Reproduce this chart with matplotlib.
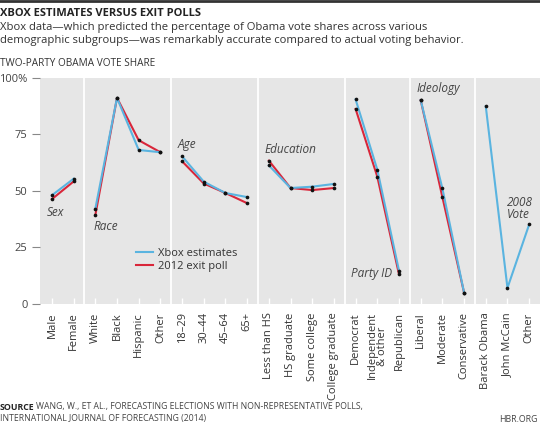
import numpy as np
import matplotlib
matplotlib.use("Agg")
import matplotlib.pyplot as plt

plt.rcParams['font.family'] = ['Open Sans', 'DejaVu Sans']

categories = ['Male', 'Female', 'White', 'Black', 'Hispanic', 'Other',
              '18–29', '30–44', '45–64', '65+',
              'Less than HS', 'HS graduate', 'Some college', 'College graduate',
              'Democrat', 'Independent\n& other', 'Republican',
              'Liberal', 'Moderate', 'Conservative',
              'Barack Obama', 'John McCain', 'Other']
group_names = ['Sex', 'Race', 'Age', 'Education', 'Party ID', 'Ideology', '2008\nVote']
group_sizes = [2, 4, 4, 4, 3, 3, 3]
xbox = [48.0, 55.3, 42.0, 91.0, 68.0, 67.0, 65.2, 54.0, 49.0, 47.2,
        61.2, 51.2, 51.8, 53.0, 90.3, 59.3, 14.7, 90.0, 51.0, 5.0,
        87.3, 7.1, 35.1]
exit_poll = [46.3, 54.1, 39.2, 91.0, 72.3, 67.0, 63.0, 53.2, 49.0, 44.5,
             63.3, 51.2, 50.3, 51.2, 86.1, 56.2, 13.1, 90.0, 47.2, 5.0,
             np.nan, np.nan, np.nan]
yticks = [0, 25, 50, 75, 100]
ytick_labels = ['0', '25', '50', '75', '100%']

BLUE = '#5ab4e0'
RED = '#d9263a'
BG = '#e6e6e6'

fig = plt.figure(figsize=(5.4, 4.25), dpi=100)
ax = fig.add_axes([40/540, (425-304)/425, 500/540, (304-77.5)/425])
ax.set_facecolor(BG)
for s in ax.spines.values():
    s.set_visible(False)

x = np.arange(len(categories))
xb = np.array(xbox)
ep = np.array(exit_poll)

start = 0
for gi, n in enumerate(group_sizes):
    sl = slice(start, start + n)
    ax.plot(x[sl], ep[sl], color=RED, lw=1.5, zorder=3,
            label='2012 exit poll' if gi == 0 else None)
    ax.plot(x[sl], xb[sl], color=BLUE, lw=1.5, zorder=4,
            label='Xbox estimates' if gi == 0 else None)
    if gi > 0:
        ax.axvline(start - 0.5, color='white', lw=1.3, zorder=1)
    start += n

ax.scatter(x, ep, s=7, color='#111111', zorder=5, linewidths=0)
ax.scatter(x, xb, s=7, color='#111111', zorder=5, linewidths=0)

# group labels
label_pos = [(-0.25, 40.5), (1.9, 34.3), (5.8, 70.3), (9.8, 68.0),
             (13.8, 13.6), (16.8, 95.0), (20.97, 42.0)]
for name, (lx, ly) in zip(group_names, label_pos):
    ax.text(lx, ly, name, style='italic', fontsize=8.5, color='#444444',
            ha='left', va='center', linespacing=0.9, zorder=6)

ax.set_xlim(-0.55, 22.5)
ax.set_ylim(0, 100)
ax.set_xticks(x)
ax.set_xticklabels(categories, rotation=90, fontsize=8, color='#333333',
                   linespacing=0.85)
ax.tick_params(axis='x', direction='in', length=4, color='white', width=1, pad=6)
ax.set_yticks(yticks)
ax.set_yticklabels(ytick_labels, fontsize=8, color='#444444')
ax.tick_params(axis='y', direction='out', length=6, color='#888888', width=0.8, pad=3)

h, l = ax.get_legend_handles_labels()
order = [l.index('Xbox estimates'), l.index('2012 exit poll')]
leg = ax.legend([h[i] for i in order], [l[i] for i in order],
                loc='upper left', bbox_to_anchor=(0.183, 0.268), frameon=False,
                fontsize=8, handlelength=1.5, handletextpad=0.45,
                labelspacing=0.2, borderaxespad=0)
for t in leg.get_texts():
    t.set_color('#333333')

# header
fig.add_artist(plt.Line2D([0, 1], [1 - 1/425, 1 - 1/425], color='#333333', lw=2))
fig.text(0.0, 1 - 13/425, 'XBOX ESTIMATES VERSUS EXIT POLLS', fontsize=8.0,
         fontweight='bold', color='#222222', va='center', ha='left')
fig.text(0.0, 1 - 34/425,
         'Xbox data—which predicted the percentage of Obama vote shares across various\n'
         'demographic subgroups—was remarkably accurate compared to actual voting behavior.',
         fontsize=8.1, color='#333333', va='center', ha='left', linespacing=1.2)
fig.text(0.0, 1 - 64/425, 'TWO-PARTY OBAMA VOTE SHARE', fontsize=7.2,
         color='#333333', va='center', ha='left')

# footer
fig.text(0.0, 1 - 407/425, 'SOURCE', fontsize=6.3, fontweight='bold',
         color='#222222', va='center', ha='left')
fig.text(36/540, 1 - 407/425,
         'WANG, W., ET AL., FORECASTING ELECTIONS WITH NON-REPRESENTATIVE POLLS,',
         fontsize=6.2, color='#444444', va='center', ha='left')
fig.text(0.0, 1 - 419/425, 'INTERNATIONAL JOURNAL OF FORECASTING (2014)',
         fontsize=6.2, color='#444444', va='center', ha='left')
fig.text(537/540, 1 - 419/425, 'HBR.ORG', fontsize=6.3, color='#444444',
         va='center', ha='right')

fig.savefig('out.png', dpi=100)
